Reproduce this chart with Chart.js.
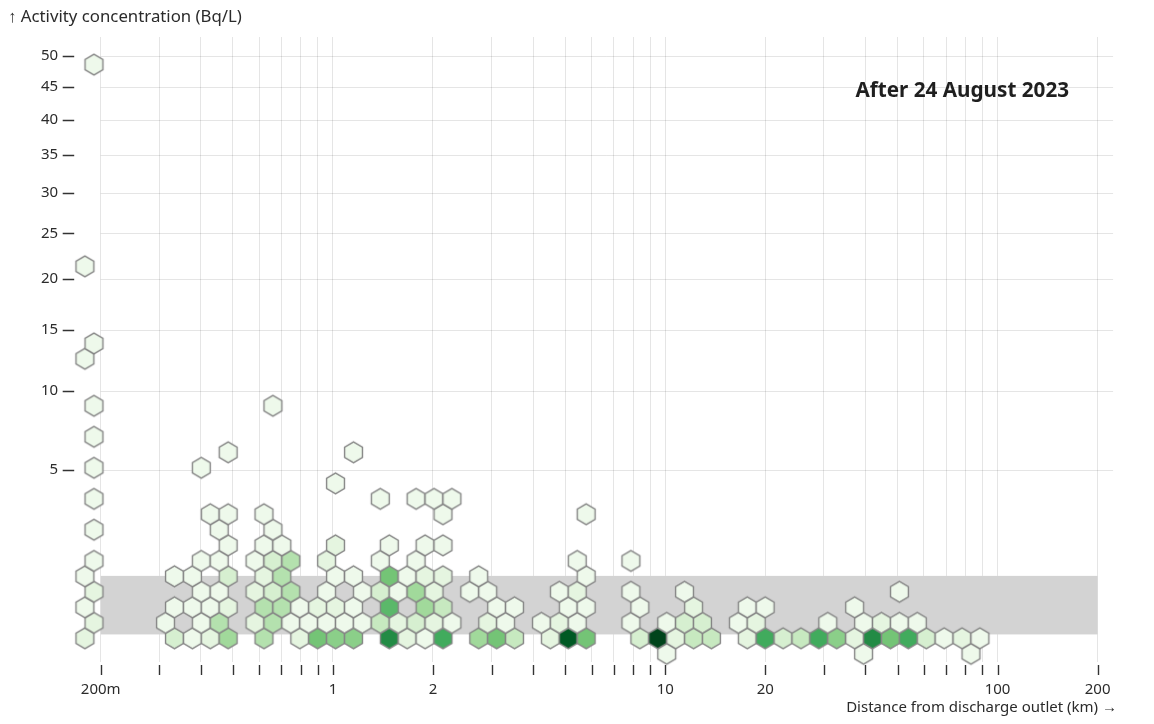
<!DOCTYPE html>
<html>
<head>
<meta charset="utf-8">
<title>Activity concentration vs distance from discharge outlet</title>
<script src="https://cdn.jsdelivr.net/npm/chart.js@4.4.1/dist/chart.umd.min.js"></script>
<style>
  html, body { margin: 0; padding: 0; background: #fff; }
  #wrap { position: relative; width: 1154px; height: 724px; }
</style>
</head>
<body>
<div id="wrap"><canvas id="chart"></canvas></div>
<script>
// Hexbin cells: one concentration level per row of hexes,
// and for every row the distances (km) of its cells and the number of samples in each.
const rowConcentration = [0.0081, 0.0734, 0.204, 0.401, 0.663, 0.99, 1.38, 1.84, 2.37, 2.96,
  3.61, 4.33, 5.12, 5.97, 6.89, 8.92, 12.5, 13.8, 21.3, 48.6];

const rowDistances = [
  [10.10, 39.52, 83.18],
  [0.1793, 0.3334, 0.3775, 0.4273, 0.4838, 0.6199, 0.7945, 0.8994, 1.018, 1.153, 1.477, 1.672, 1.893,
   2.143, 2.746, 3.109, 3.519, 4.510, 5.106, 5.780, 8.385, 9.493, 10.75, 12.17, 13.77, 17.65, 19.98,
   22.62, 25.61, 28.99, 32.81, 37.15, 42.05, 47.61, 53.89, 61.01, 69.06, 78.18, 88.50],
  [0.1909, 0.3134, 0.4016, 0.4547, 0.5827, 0.6596, 0.7467, 0.8453, 0.9569, 1.083, 1.226, 1.388, 1.572,
   1.779, 2.014, 2.280, 2.922, 3.308, 4.239, 4.799, 5.432, 7.881, 10.10, 11.43, 12.94, 16.59, 18.78,
   30.84, 39.52, 44.74, 50.65, 57.34],
  [0.1793, 0.3334, 0.3775, 0.4273, 0.4838, 0.6199, 0.7018, 0.7945, 0.8994, 1.018, 1.153, 1.477, 1.893,
   2.143, 3.109, 3.519, 5.106, 5.780, 8.385, 12.17, 17.65, 19.98, 37.15],
  [0.1909, 0.4016, 0.4547, 0.5827, 0.6596, 0.7467, 0.9569, 1.226, 1.388, 1.572, 1.779, 2.014, 2.581,
   2.922, 4.799, 5.432, 7.881, 11.43, 50.65],
  [0.1793, 0.3334, 0.3775, 0.4838, 0.6199, 0.7018, 1.018, 1.153, 1.477, 1.672, 1.893, 2.143, 2.746, 5.780],
  [0.1909, 0.4016, 0.4547, 0.5827, 0.6596, 0.7467, 0.9569, 1.388, 1.779, 5.432, 7.881],
  [0.4838, 0.6199, 0.7018, 1.018, 1.477, 1.893, 2.143],
  [0.1909, 0.4547, 0.6596],
  [0.4273, 0.4838, 0.6199, 2.143, 5.780],
  [0.1909, 1.388, 1.779, 2.014, 2.280],
  [1.018],
  [0.1909, 0.4016],
  [0.4838, 1.153],
  [0.1909],
  [0.1909, 0.6596],
  [0.1793],
  [0.1909],
  [0.1793],
  [0.1909]
];

const rowCounts = [
  [1, 1, 1],
  [2, 3, 1, 2, 6, 5, 2, 8, 7, 7, 12, 2, 1, 10, 6, 8, 4, 2, 15, 8, 3, 16, 2, 4, 4, 2, 10, 3, 4, 10,
   7, 2, 12, 8, 10, 3, 1, 2, 1],
  [2, 1, 1, 5, 2, 5, 1, 1, 1, 1, 1, 4, 2, 3, 2, 1, 2, 1, 1, 2, 1, 1, 1, 3, 3, 1, 2, 1, 1, 2, 1, 1],
  [1, 1, 1, 1, 2, 5, 5, 1, 2, 2, 1, 9, 6, 4, 1, 1, 1, 1, 1, 2, 1, 1, 1],
  [2, 1, 1, 2, 3, 5, 1, 1, 3, 1, 6, 2, 1, 1, 1, 2, 1, 1, 1],
  [1, 1, 1, 3, 2, 5, 1, 1, 8, 1, 2, 2, 1, 1],
  [1, 1, 1, 1, 3, 5, 2, 1, 1, 1, 1],
  [1, 1, 1, 2, 1, 1, 1],
  [1, 1, 1],
  [1, 1, 1, 1, 1],
  [1, 1, 1, 1, 1],
  [1],
  [1, 1],
  [1, 1],
  [1],
  [1, 1],
  [1],
  [1],
  [1],
  [1]
];
const maxCount = 16;

// axes
const xMin = 0.2, xMax = 200;
const xTickValues = [0.2, 0.3, 0.4, 0.5, 0.6, 0.7, 0.8, 0.9, 1, 2, 3, 4, 5, 6, 7, 8, 9,
  10, 20, 30, 40, 50, 60, 70, 80, 90, 100, 200];
const xTickLabels = ['200m', '', '', '', '', '', '', '', '1', '2', '', '', '', '', '', '', '',
  '10', '20', '', '', '', '', '', '', '', '100', '200'];
const yMin = 0, yMax = 53.2;
const yTickValues = [5, 10, 15, 20, 25, 30, 35, 40, 45, 50];

// grey band (0.1 to 1 Bq/L)
const bandLow = 0.1, bandHigh = 1;

const yTitle = '\u2191 Activity concentration (Bq/L)';
const xTitle = 'Distance from discharge outlet (km) \u2192';
const note = 'After 24 August 2023';

const FONT = '"Noto Sans", "Open Sans", sans-serif';
const TEXT = '#2b2b2b';
const GRID = 'rgba(0,0,0,0.1)';
const HEX_R = 10.33;

// --- colour scale (Greens) ---
const greenStops = ['#f7fcf5', '#e5f5e0', '#c7e9c0', '#a1d99b', '#74c476', '#41ab5d', '#238b45', '#006d2c', '#00441b'];
function rgb(h) {
  return [parseInt(h.slice(1, 3), 16), parseInt(h.slice(3, 5), 16), parseInt(h.slice(5, 7), 16)];
}
function greens(t) {
  t = Math.max(0, Math.min(1, t));
  const s = t * (greenStops.length - 1);
  const i = Math.min(Math.floor(s), greenStops.length - 2);
  const f = s - i;
  const a = rgb(greenStops[i]), b = rgb(greenStops[i + 1]);
  return 'rgb(' + a.map((v, k) => Math.round(v + (b[k] - v) * f)).join(',') + ')';
}

// one hexagon sprite per colour, used as the point style
const spriteCache = {};
function hexSprite(fill) {
  if (spriteCache[fill]) return spriteCache[fill];
  const size = Math.ceil(2 * HEX_R + 4);
  const c = document.createElement('canvas');
  c.width = size; c.height = size;
  const g = c.getContext('2d');
  g.translate(size / 2, size / 2);
  g.beginPath();
  for (let i = 0; i < 6; i++) {
    const a = Math.PI / 3 * i - Math.PI / 2;
    const px = HEX_R * Math.cos(a), py = HEX_R * Math.sin(a);
    if (i === 0) g.moveTo(px, py); else g.lineTo(px, py);
  }
  g.closePath();
  g.fillStyle = fill;
  g.fill();
  g.strokeStyle = '#868686';
  g.lineWidth = 1.4;
  g.stroke();
  spriteCache[fill] = c;
  return c;
}

// --- square-root y scale ---
class SqrtScale extends Chart.LinearScale {
  getPixelForValue(value) {
    const lo = Math.sqrt(this.min), hi = Math.sqrt(this.max);
    return this.getPixelForDecimal((Math.sqrt(Math.max(value, 0)) - lo) / (hi - lo));
  }
  getValueForPixel(pixel) {
    const lo = Math.sqrt(this.min), hi = Math.sqrt(this.max);
    const s = lo + this.getDecimalForPixel(pixel) * (hi - lo);
    return s * s;
  }
}
SqrtScale.id = 'sqrt';
SqrtScale.defaults = Chart.LinearScale.defaults;
Chart.register(SqrtScale);

// flatten rows into points
const points = [];
const styles = [];
rowDistances.forEach((row, r) => {
  row.forEach((d, i) => {
    points.push({ x: d, y: rowConcentration[r] });
    styles.push(hexSprite(greens(rowCounts[r][i] / maxCount)));
  });
});

const decorations = {
  id: 'decorations',
  beforeDatasetsDraw(chart) {
    const { ctx, chartArea: area, scales: { x, y } } = chart;
    ctx.save();
    // horizontal grid, running a little past the last x tick like the original
    ctx.strokeStyle = GRID;
    ctx.lineWidth = 1;
    ctx.beginPath();
    yTickValues.forEach(v => {
      const py = Math.round(y.getPixelForValue(v)) + 0.5;
      ctx.moveTo(area.left, py);
      ctx.lineTo(area.right + 15.5, py);
    });
    ctx.stroke();
    const top = y.getPixelForValue(bandHigh), bottom = y.getPixelForValue(bandLow);
    const left = x.getPixelForValue(xMin), right = x.getPixelForValue(xMax);
    ctx.fillStyle = '#d3d3d3';
    ctx.fillRect(left, top, right - left, bottom - top);
    ctx.restore();
  },
  afterDraw(chart) {
    const { ctx, chartArea: area, scales: { x, y } } = chart;
    ctx.save();
    ctx.strokeStyle = '#333';
    ctx.lineWidth = 1.4;
    ctx.beginPath();
    xTickValues.forEach(v => {
      const px = Math.round(x.getPixelForValue(v)) + 0.5;
      ctx.moveTo(px, area.bottom + 3.5);
      ctx.lineTo(px, area.bottom + 13.5);
    });
    yTickValues.forEach(v => {
      const py = Math.round(y.getPixelForValue(v)) + 0.5;
      ctx.moveTo(area.left - 38, py);
      ctx.lineTo(area.left - 26.5, py);
    });
    ctx.stroke();

    ctx.fillStyle = TEXT;
    ctx.textBaseline = 'middle';
    ctx.font = '16.8px ' + FONT;
    ctx.textAlign = 'left';
    ctx.fillText(yTitle, 8, 17);
    ctx.font = '15px ' + FONT;
    ctx.textAlign = 'right';
    ctx.fillText(xTitle, 1117, 708);

    ctx.font = 'bold 20.7px ' + FONT;
    ctx.fillStyle = '#1f1f1f';
    ctx.fillText(note, area.right - 28.5, 91.5);
    ctx.restore();
  }
};

new Chart(document.getElementById('chart'), {
  type: 'scatter',
  data: {
    datasets: [{
      data: points,
      pointStyle: styles,
      pointRadius: 24,
      pointBorderWidth: 0,
      clip: false
    }]
  },
  options: {
    responsive: true,
    maintainAspectRatio: false,
    animation: false,
    events: [],
    layout: { padding: { top: 37, right: 56.4, left: 0, bottom: 0 } },
    plugins: { legend: { display: false }, tooltip: { enabled: false } },
    scales: {
      x: {
        type: 'logarithmic',
        min: xMin,
        max: xMax,
        afterBuildTicks: s => { s.ticks = xTickValues.map(v => ({ value: v })); },
        afterFit: s => {
          s.height = 62.5;
          s.paddingLeft = 0; s.paddingRight = 0;
        },
        border: { display: false },
        grid: { color: GRID, lineWidth: 1, drawTicks: false },
        ticks: {
          autoSkip: false,
          maxRotation: 0,
          padding: 19,
          color: TEXT,
          font: { family: FONT, size: 15 },
          callback: (v, i) => xTickLabels[i]
        }
      },
      y: {
        type: 'sqrt',
        min: yMin,
        max: yMax,
        afterBuildTicks: s => { s.ticks = yTickValues.map(v => ({ value: v })); },
        afterFit: s => {
          s.width = 100.7;
          s.paddingTop = 0; s.paddingBottom = 0;
        },
        border: { display: false },
        grid: { display: false },
        ticks: {
          padding: 34.5,
          color: TEXT,
          font: { family: FONT, size: 15 },
          callback: v => String(v)
        }
      }
    }
  },
  plugins: [decorations]
});
</script>
</body>
</html>
